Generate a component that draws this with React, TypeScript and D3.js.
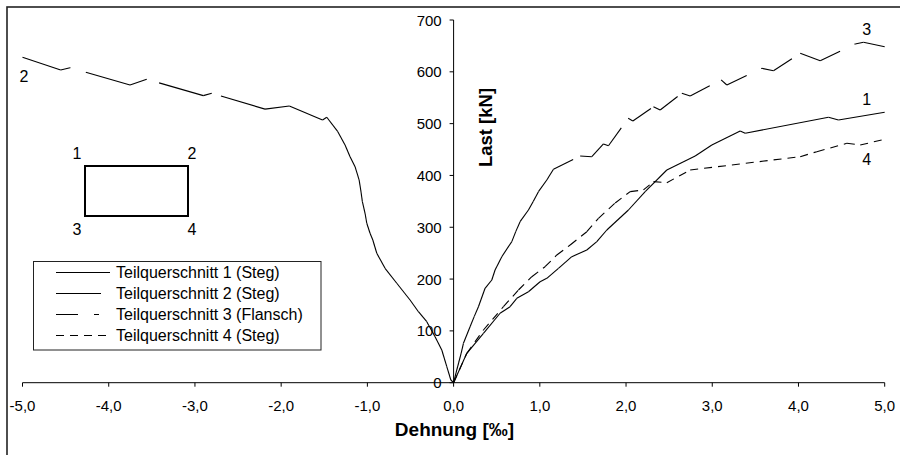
import React from "react";
import * as d3 from "d3";

type P = [number, number];

const xTicks = [-5, -4, -3, -2, -1, 0, 1, 2, 3, 4, 5];
const yTicks = [0, 100, 200, 300, 400, 500, 600, 700];

// Teilquerschnitt 1 (Steg)
const series1: P[] = [
  [0, 0], [0.153, 56.7], [0.346, 95.3], [0.539, 134], [0.655, 146.7], [0.733, 162.9],
  [0.868, 175.6], [1.003, 194.9], [1.081, 201.5], [1.216, 220.8], [1.371, 243.2],
  [1.545, 256.1], [1.661, 272.2], [1.777, 294.7], [2.028, 333.3], [2.222, 368.7],
  [2.473, 410.5], [2.802, 437.6], [2.995, 458.8], [3.324, 485.8], [3.382, 481.4],
  [4.348, 512.3], [4.464, 507], [5.0, 522],
];

// Teilquerschnitt 2 (Steg) — negative strain, ordered by load
const series2: P[] = [
  [0, 0], [-0.032, 5.2], [-0.079, 30.9], [-0.137, 63.1], [-0.215, 88.8], [-0.311, 117.7],
  [-0.408, 137], [-0.505, 159.6], [-0.659, 191.9], [-0.795, 220.8], [-0.891, 249.8],
  [-0.937, 275.4], [-0.969, 288.4], [-1.007, 307.7], [-1.027, 327], [-1.058, 349.4],
  [-1.077, 371.9], [-1.096, 391.3], [-1.143, 416.9], [-1.201, 436.2], [-1.259, 458.8],
  [-1.343, 484.5], [-1.471, 512.3], [-1.52, 507], [-1.905, 534], [-2.187, 528],
  [-2.805, 558.6], [-2.903, 554], [-3.559, 585.6], [-3.753, 574.6], [-4.449, 608],
  [-4.557, 603.6], [-5.0, 628],
];

// Teilquerschnitt 3 (Flansch)
const series3: P[] = [
  [0, 0], [0.028, 19], [0.058, 38], [0.088, 57], [0.114, 76], [0.191, 108], [0.24, 128],
  [0.288, 146.7], [0.365, 182.2], [0.443, 198.2], [0.481, 217.5], [0.559, 243.2],
  [0.675, 272.2], [0.722, 292], [0.771, 310.8], [0.868, 333.3], [0.925, 350],
  [0.984, 368.7], [1.081, 391.2], [1.158, 411.9], [1.468, 437.6], [1.603, 436.2],
  [1.738, 460.7], [1.796, 457.4], [2.025, 510.3], [2.079, 505.1], [2.318, 532.7],
  [2.396, 526.4], [2.647, 558.6], [2.744, 553.4], [3.103, 584.3], [3.169, 574.6],
  [3.575, 606.8], [3.71, 602.2], [4.02, 635.8], [4.252, 621.5], [4.658, 653.7],
  [4.754, 657], [5.0, 648.5],
];

// Teilquerschnitt 4 (Steg)
const series4: P[] = [
  [0, 0], [0.153, 56.7], [0.346, 101.7], [0.578, 146.7], [0.752, 178.9], [0.907, 204.6],
  [1.061, 223.9], [1.197, 246.5], [1.352, 265.8], [1.545, 291.4], [1.68, 317.3],
  [1.874, 346.8], [2.048, 368.7], [2.202, 372], [2.318, 388], [2.473, 386],
  [2.744, 410.5], [4.02, 436.2], [4.213, 445.9], [4.561, 462], [4.716, 458.8], [5.0, 469.8],
];

const legendLabels = [
  "Teilquerschnitt 1 (Steg)",
  "Teilquerschnitt 2 (Steg)",
  "Teilquerschnitt 3 (Flansch)",
  "Teilquerschnitt 4 (Steg)",
];

const fmt = (v: number) => v.toFixed(1).replace(".", ",");
const FONT = "'Liberation Sans', Arial, sans-serif";

export default function App() {
  const x = d3.scaleLinear().domain([-5, 5]).range([22.5, 884.7]);
  const y = d3.scaleLinear().domain([0, 700]).range([382.7, 20]);

  const styles = [
    { data: series1, dash: "none", legendLen: 54 },
    { data: series2, dash: "46,16", legendLen: 45 },
    { data: series3, dash: "22,16,5,16", legendLen: 45 },
    { data: series4, dash: "8,6", legendLen: 54 },
  ];

  const segs = (data: P[], dash: string, key: string) =>
    data.slice(1).map((p, i) => (
      <line
        key={key + i}
        x1={x(data[i][0])}
        y1={y(data[i][1])}
        x2={x(p[0])}
        y2={y(p[1])}
        stroke="#000"
        strokeWidth={1.1}
        strokeDasharray={dash}
      />
    ));

  const x0 = x(0);
  const y0 = y(0);

  return (
    <svg
      width={900}
      height={455}
      style={{ position: "absolute", left: 0, top: 0, background: "#fff" }}
      fontFamily={FONT}
    >
      <rect x={0} y={0} width={900} height={455} fill="#fff" />
      <rect x={7} y={7} width={900} height={470} fill="none" stroke="#222" strokeWidth={1.6} />

      {/* x axis */}
      <line x1={x(-5)} x2={x(5)} y1={y0} y2={y0} stroke="#000" strokeWidth={1} />
      {xTicks.map((t) => (
        <g key={"xt" + t}>
          <line x1={x(t)} x2={x(t)} y1={y0} y2={y0 + 4} stroke="#000" strokeWidth={1} />
          <text x={x(t)} y={410.5} fontSize={15} textAnchor="middle" fill="#000">
            {fmt(t)}
          </text>
        </g>
      ))}
      {/* y axis */}
      <line x1={x0} x2={x0} y1={y(700)} y2={y0} stroke="#000" strokeWidth={1} />
      {yTicks.map((t) => (
        <g key={"yt" + t}>
          <line x1={x0 - 4} x2={x0} y1={y(t)} y2={y(t)} stroke="#000" strokeWidth={1} />
          <text x={441.7} y={y(t) + 5.5} fontSize={15} textAnchor="end" fill="#000">
            {t}
          </text>
        </g>
      ))}

      <text x={454.5} y={436} fontSize={19} fontWeight="bold" textAnchor="middle">
        Dehnung [‰]
      </text>
      <text
        transform={`translate(491.5,127.5) rotate(-90)`}
        fontSize={18.5}
        fontWeight="bold"
        textAnchor="middle"
      >
        Last [kN]
      </text>

      {/* series */}
      {styles.map((s, k) => (
        <g key={"s" + k}>{segs(s.data, s.dash, "s" + k + "_")}</g>
      ))}

      {/* series labels */}
      <text x={24} y={82} fontSize={16} textAnchor="middle">2</text>
      <text x={866.7} y={35} fontSize={16} textAnchor="middle">3</text>
      <text x={866.7} y={105} fontSize={16} textAnchor="middle">1</text>
      <text x={866.7} y={165} fontSize={16} textAnchor="middle">4</text>

      {/* cross-section sketch */}
      <rect x={85} y={166} width={103} height={50} fill="none" stroke="#000" strokeWidth={2} />
      <text x={77} y={159} fontSize={16} textAnchor="middle">1</text>
      <text x={192} y={159} fontSize={16} textAnchor="middle">2</text>
      <text x={77} y={235} fontSize={16} textAnchor="middle">3</text>
      <text x={192} y={235} fontSize={16} textAnchor="middle">4</text>

      {/* legend */}
      <rect x={33.5} y={261.5} width={287.5} height={88.5} fill="#fff" stroke="#222" strokeWidth={1} />
      {legendLabels.map((l, i) => {
        const cy = 272.5 + i * 21;
        const s = styles[i];
        return (
          <g key={"lg" + i}>
            <line
              x1={56}
              x2={56 + s.legendLen}
              y1={cy}
              y2={cy}
              stroke="#000"
              strokeWidth={1.1}
              strokeDasharray={s.dash}
            />
            <text x={116} y={cy + 5.5} fontSize={16}>
              {l}
            </text>
          </g>
        );
      })}
    </svg>
  );
}
